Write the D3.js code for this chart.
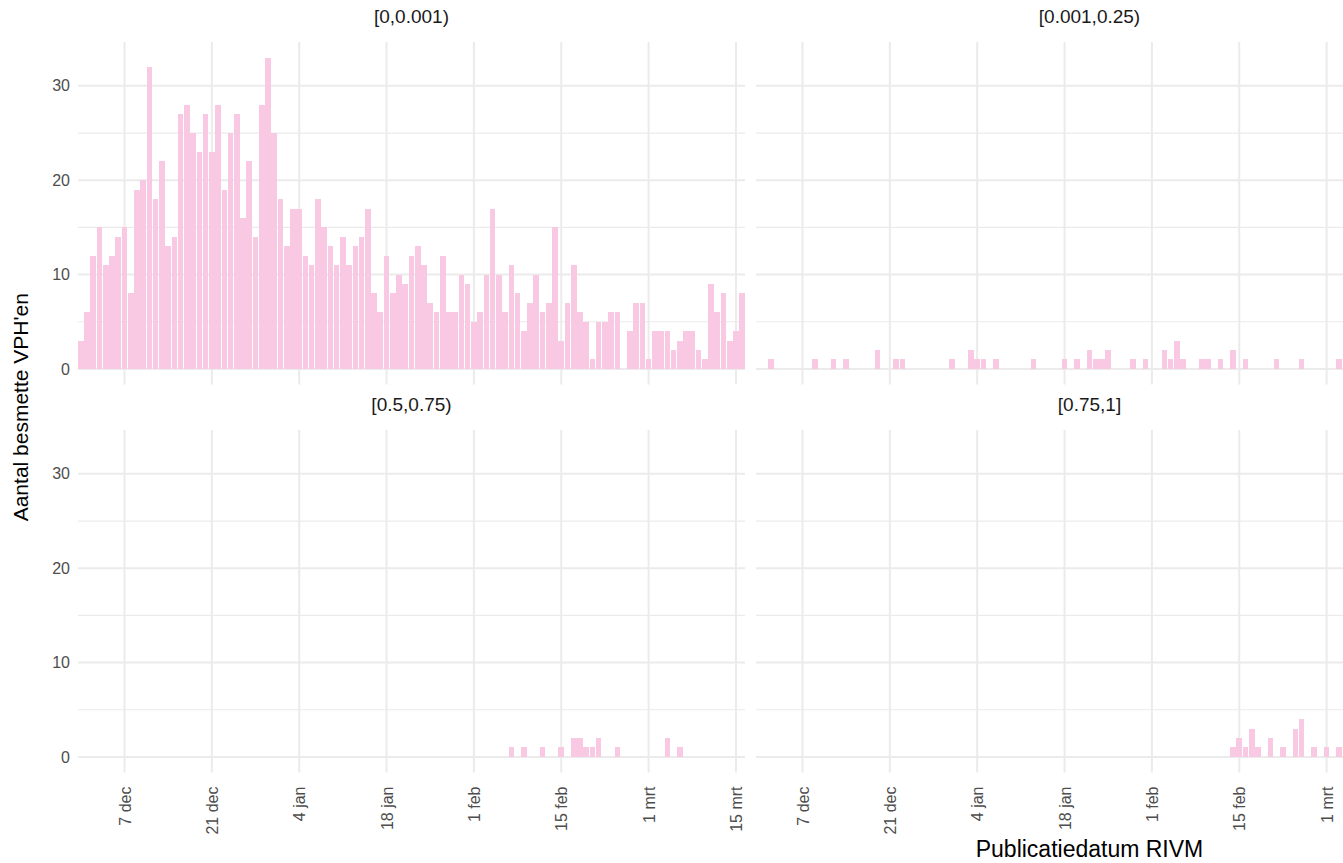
<!DOCTYPE html>
<html>
<head>
<meta charset="utf-8">
<style>
  body { margin: 0; background: #fff; }
  svg { display: block; font-family: "Liberation Sans", Arial, sans-serif; }
  .grid line { stroke: #ebebeb; }
  .axis text { fill: #4d4d4d; font-size: 16px; }
  .strip { fill: #1a1a1a; font-size: 19px; }
  .title { fill: #000; font-size: 21px; }
</style>
</head>
<body>
<script src="https://cdn.jsdelivr.net/npm/d3@7/dist/d3.min.js"></script>
<script>
var width = 1343, height = 863;

var facetLabels = ["[0,0.001)", "[0.001,0.25)", "[0.5,0.75)", "[0.75,1]"];

// lowest bracket: one count per day starting 30 nov 2020
var firstDay = "2020-11-30";
var countsLowest = [3,6,12,15,11,12,14,15,8,19,
  20,32,18,22,13,14,27,28,25,23,
  27,23,28,19,25,27,16,22,14,28,
  33,25,18,13,17,17,12,11,18,15,
  13,11,14,11,13,14,17,8,6,12,
  8,10,9,12,13,11,7,6,12,6,
  6,10,9,5,6,10,17,10,6,11,
  8,4,7,10,6,7,15,3,7,11,
  6,5,1,5,5,6,6,0,4,7,
  7,1,4,4,4,2,3,4,4,2,
  1,9,6,8,3,4,8];

// other brackets: only the days that had cases
var daysB2 = ["2020-12-02","2020-12-09","2020-12-12","2020-12-14","2020-12-19","2020-12-22","2020-12-23","2020-12-31",
  "2021-01-03","2021-01-04","2021-01-05","2021-01-07","2021-01-13","2021-01-18","2021-01-20","2021-01-22","2021-01-23",
  "2021-01-24","2021-01-25","2021-01-29","2021-01-31","2021-02-03","2021-02-04","2021-02-05","2021-02-06","2021-02-09",
  "2021-02-10","2021-02-12","2021-02-14","2021-02-16","2021-02-21","2021-02-25","2021-03-03"];
var countsB2 = [1,1,1,1,2,1,1,1, 2,1,1,1,1,1,1,2,1, 1,2,1,1,2,1,3,1,1, 1,1,2,1,1,1,1];

var daysB3 = ["2021-02-07","2021-02-09","2021-02-12","2021-02-15","2021-02-17","2021-02-18","2021-02-19","2021-02-20",
  "2021-02-21","2021-02-24","2021-03-04","2021-03-06"];
var countsB3 = [1,1,1,1,2,2,1,1,2,1,2,1];

var daysB4 = ["2021-02-14","2021-02-15","2021-02-16","2021-02-17","2021-02-18","2021-02-20","2021-02-22","2021-02-24",
  "2021-02-25","2021-02-27","2021-03-01","2021-03-03"];
var countsB4 = [1,2,1,3,1,2,1,3,4,1,1,1];

var tickDays = ["2020-12-07","2020-12-21","2021-01-04","2021-01-18","2021-02-01","2021-02-15","2021-03-01","2021-03-15"];
var yTicks = [0, 10, 20, 30];
var yMinor = [5, 15, 25];

var parse = d3.utcParse("%Y-%m-%d");
var DAY = 864e5;

var nl = d3.timeFormatLocale({
  dateTime: "%a %e %B %Y %X", date: "%d-%m-%Y", time: "%H:%M:%S", periods: ["AM", "PM"],
  days: ["zondag","maandag","dinsdag","woensdag","donderdag","vrijdag","zaterdag"],
  shortDays: ["zo","ma","di","wo","do","vr","za"],
  months: ["januari","februari","maart","april","mei","juni","juli","augustus","september","oktober","november","december"],
  shortMonths: ["jan","feb","mrt","apr","mei","jun","jul","aug","sep","okt","nov","dec"]
});
var fmt = nl.utcFormat("%-d %b");

var t0 = parse(firstDay);
var lowest = countsLowest.map(function(v, i) { return {date: d3.utcDay.offset(t0, i), n: v}; });
function pairs(days, counts) {
  return days.map(function(d, i) { return {date: parse(d), n: counts[i]}; });
}

var panels = [
  {label: facetLabels[0], col: 0, row: 0, data: lowest},
  {label: facetLabels[1], col: 1, row: 0, data: pairs(daysB2, countsB2)},
  {label: facetLabels[2], col: 0, row: 1, data: pairs(daysB3, countsB3)},
  {label: facetLabels[3], col: 1, row: 1, data: pairs(daysB4, countsB4)}
];

// layout (right column runs past the picture edge, as in the original crop)
var colX = [78, 756], rowY = [42, 430], panelW = 667, panelH = 342.5;

var t1 = lowest[lowest.length - 1].date;
var x = d3.scaleUtc()
    .domain([new Date(+t0 - 0.45 * DAY), new Date(+t1 + 0.45 * DAY)])
    .range([0, panelW]);

var yMax = d3.max(panels, function(p) { return d3.max(p.data, function(d) { return d.n; }); });
var pad = yMax * 0.05;
var y = d3.scaleLinear().domain([-pad, yMax + pad]).range([panelH, 0]);

var svg = d3.select("body").append("svg")
    .attr("width", width)
    .attr("height", height);

var ticks = tickDays.map(parse);

panels.forEach(function(p) {
  var g = svg.append("g").attr("transform", "translate(" + colX[p.col] + "," + rowY[p.row] + ")");

  var grid = g.append("g").attr("class", "grid");
  grid.selectAll(".minor").data(yMinor).enter().append("line")
      .attr("x1", 0).attr("x2", panelW)
      .attr("y1", function(d) { return y(d); }).attr("y2", function(d) { return y(d); })
      .attr("stroke-width", 1.2);
  grid.selectAll(".hmaj").data(yTicks).enter().append("line")
      .attr("x1", 0).attr("x2", panelW)
      .attr("y1", function(d) { return y(d); }).attr("y2", function(d) { return y(d); })
      .attr("stroke-width", 2);
  grid.selectAll(".vmaj").data(ticks).enter().append("line")
      .attr("x1", function(d) { return x(d); }).attr("x2", function(d) { return x(d); })
      .attr("y1", 0).attr("y2", panelH)
      .attr("stroke-width", 2);

  g.selectAll("rect").data(p.data.filter(function(d) { return d.n > 0; })).enter().append("rect")
      .attr("x", function(d) { return x(new Date(+d.date - 0.45 * DAY)); })
      .attr("width", function(d) { return x(new Date(+d.date + 0.45 * DAY)) - x(new Date(+d.date - 0.45 * DAY)); })
      .attr("y", function(d) { return y(d.n); })
      .attr("height", function(d) { return y(0) - y(d.n); })
      .attr("fill", "#f9c8e2")
      .attr("shape-rendering", "crispEdges");

  // strip label
  svg.append("text").attr("class", "strip")
      .attr("x", colX[p.col] + panelW / 2)
      .attr("y", rowY[p.row] - 24)
      .attr("text-anchor", "middle")
      .attr("dominant-baseline", "middle")
      .text(p.label);

  if (p.col === 0) {
    var ya = g.append("g").attr("class", "axis")
        .call(d3.axisLeft(y).tickValues(yTicks).tickSize(0).tickPadding(8));
    ya.select(".domain").remove();
    ya.selectAll("text").style("font-family", null);
  }
  if (p.row === 1) {
    // only the ticks that fall inside the picture
    var shown = ticks.filter(function(d) { return colX[p.col] + x(d) < width - 6; });
    var xa = g.append("g").attr("class", "axis")
        .attr("transform", "translate(0," + panelH + ")")
        .call(d3.axisBottom(x).tickValues(shown).tickFormat(fmt).tickSize(0));
    xa.select(".domain").remove();
    xa.selectAll("text")
        .attr("transform", "rotate(-90)")
        .attr("text-anchor", "end")
        .attr("x", -14)
        .attr("y", 0)
        .attr("dy", "0.35em");
  }
});

svg.append("text").attr("class", "title")
    .attr("transform", "translate(22," + (rowY[0] + (rowY[1] + panelH - rowY[0]) / 2) + ") rotate(-90)")
    .attr("text-anchor", "middle")
    .attr("dominant-baseline", "middle")
    .text("Aantal besmette VPH'en");

svg.append("text").attr("class", "title")
    .attr("x", colX[1] + panelW / 2)
    .attr("y", 851)
    .attr("text-anchor", "middle")
    .attr("dominant-baseline", "middle")
    .style("font-size", "23px")
    .text("Publicatiedatum RIVM");
</script>
</body>
</html>
